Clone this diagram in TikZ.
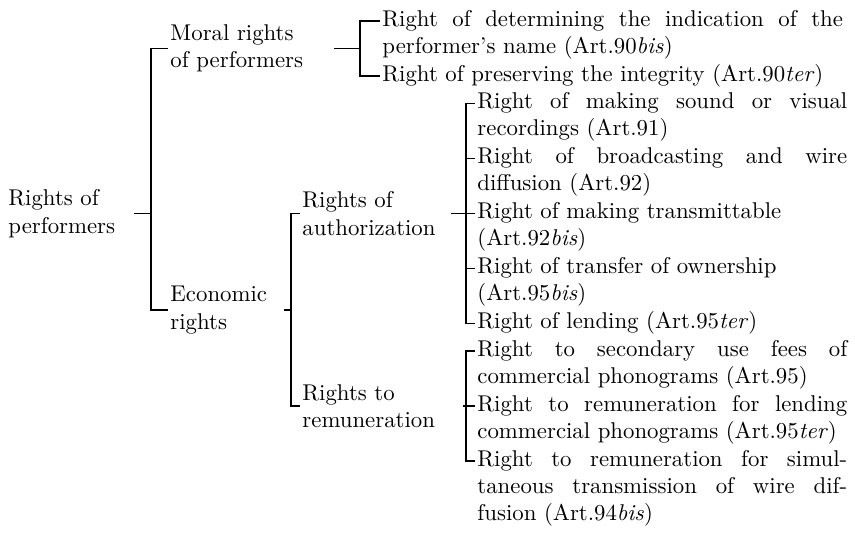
\documentclass[tikz,border=0pt]{standalone}
\usepackage{tikz}
\tolerance=9999

\begin{document}
\begin{tikzpicture}[
  x=0.43pt, y=-0.43pt,
  font=\fontsize{9.8}{11.8}\selectfont,
  branch/.style={align=left, inner sep=0pt, anchor=west},
  leaf/.style={align=justify, text width=159pt, inner sep=0pt, anchor=mid west},
  wideleaf/.style={leaf, text width=198pt},
  link/.style={line width=0.45pt, draw=black},
  bracket/.style={link, shorten <=1pt, shorten >=1pt},
  twig/.style={link, shorten >=1pt}
]
\useasboundingbox (0,0) rectangle (855,533);

% categories
\node[branch] (perf) at (8,213.5) {Rights of\\performers};
\node[branch] (moral) at (170,48.5) {Moral rights\\of performers};
\node[branch] (econ) at (170,310) {Economic\\rights};
\node[branch] (auth) at (302,213.5) {Rights of\\authorization};
\node[branch] (remu) at (302,406) {Rights to\\remuneration};

% single rights
\node[wideleaf] (ind) at (382,21) {Right of determining the indication of the\linebreak performer's name (Art.90\textit{bis})};
\node[wideleaf] (int) at (382,76) {Right of preserving the integrity (Art.90\textit{ter})};

\node[leaf] (rec) at (477,103.5) {Right of making sound or visual\linebreak recordings (Art.91)};
\node[leaf] (bro) at (477,158.5) {Right of broadcasting and wire\linebreak diffusion (Art.92)};
\node[leaf] (tra) at (477,213.5) {Right of making transmittable\newline (Art.92\textit{bis})};
\node[leaf] (own) at (477,268.5) {Right of transfer of ownership\newline (Art.95\textit{bis})};
\node[leaf] (len) at (477,323.5) {Right of lending (Art.95\textit{ter})};

\node[leaf] (sec) at (477,351) {Right to secondary use fees of\linebreak commercial phonograms (Art.95)};
\node[leaf] (rle) at (477,406) {Right to remuneration for lending\linebreak commercial phonograms (Art.95\textit{ter})};
\node[leaf] (sim) at (477,461) {Right to remuneration for simul-\linebreak taneous transmission of wire dif-\linebreak fusion (Art.94\textit{bis})};

% forks
\coordinate (perf-fork) at (151,213.5);
\coordinate (moral-fork) at (360,48.5);
\coordinate (econ-fork) at (291,310);
\coordinate (auth-fork) at (466,213.5);
\coordinate (remu-fork) at (466,406);

\draw[link, shorten <=8pt] (perf) -- (perf-fork);
\draw[bracket] (moral.west) -| (perf-fork) |- (econ.west);

\draw[link, shorten <=13pt] (moral) -- (moral-fork);
\draw[bracket] (ind.mid west) -| (moral-fork) |- (int.mid west);

\draw[link, shorten <=7pt] (econ) -- (econ-fork);
\draw[bracket] (auth.west) -| (econ-fork) |- (remu.west);

\draw[link, shorten <=6.5pt] (auth) -- (auth-fork);
\draw[bracket] (rec.mid west) -| (auth-fork) |- (len.mid west);
\draw[twig] (auth-fork |- bro.mid west) -- (bro.mid west);
\draw[twig] (auth-fork) -- (tra.mid west);
\draw[twig] (auth-fork |- own.mid west) -- (own.mid west);

\draw[link, shorten <=12pt] (remu) -- (remu-fork);
\draw[bracket] (sec.mid west) -| (remu-fork) |- (sim.mid west);
\draw[twig] (remu-fork) -- (rle.mid west);
\end{tikzpicture}
\end{document}
